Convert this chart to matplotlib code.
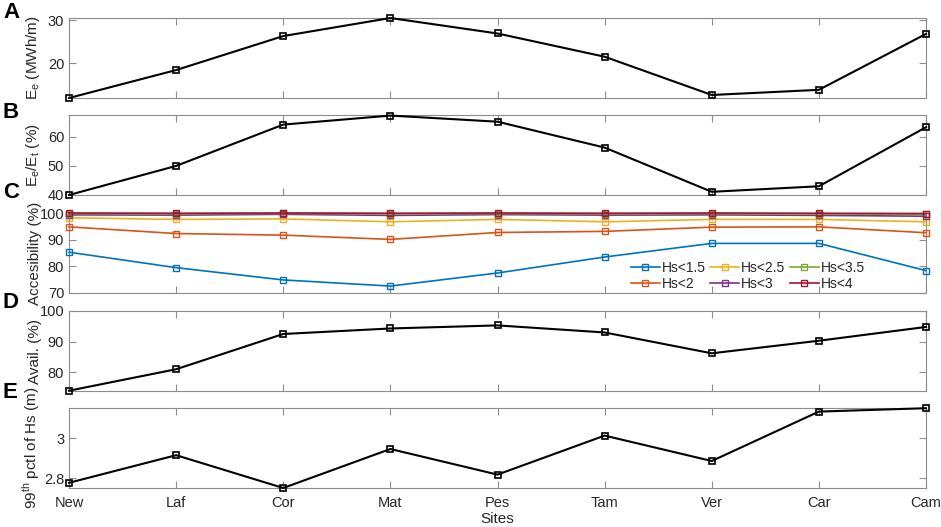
import numpy as np
import matplotlib
matplotlib.use("Agg")
import matplotlib.pyplot as plt

plt.rcParams["font.family"] = ["Liberation Sans", "DejaVu Sans"]

sites = ["New", "Laf", "Cor", "Mat", "Pes", "Tam", "Ver", "Car", "Cam"]

# A: exploitable energy (MWh/m)
energy = [11.9, 18.4, 26.3, 30.5, 26.9, 21.5, 12.6, 13.8, 26.8]
# B: Ee/Et (%)
ratio = [40.0, 50.0, 64.2, 67.3, 65.2, 56.3, 41.1, 43.0, 63.3]
# C: accessibility (%) per Hs threshold
acc_labels = ["Hs<1.5", "Hs<2", "Hs<2.5", "Hs<3", "Hs<3.5", "Hs<4"]
acc_hs15 = [85.3, 79.5, 74.9, 72.6, 77.5, 83.5, 88.6, 88.6, 78.4]
acc_hs2 = [94.8, 92.3, 91.7, 90.1, 92.7, 93.1, 94.7, 94.8, 92.6]
acc_hs25 = [98.2, 97.6, 97.8, 96.7, 97.6, 96.7, 97.6, 97.6, 96.7]
acc_hs3 = [99.3, 99.2, 99.5, 99.1, 99.4, 99.2, 99.3, 99.1, 98.8]
acc_hs35 = [99.8, 99.7, 99.9, 99.7, 99.8, 99.7, 99.8, 99.6, 99.5]
acc_hs4 = [100.0, 99.9, 100.0, 99.9, 100.0, 99.9, 100.0, 99.9, 99.8]
# D: availability (%)
avail = [74.0, 81.0, 92.5, 94.3, 95.3, 93.0, 86.2, 90.3, 94.8]
# E: 99th percentile of Hs (m)
hs99 = [2.776, 2.914, 2.75, 2.945, 2.817, 3.012, 2.885, 3.132, 3.149]

matlab_colors = ["#0072BD", "#D95319", "#EDB120", "#7E2F8E", "#77AC30", "#A2142F"]
axis_gray = "#8c8c8c"
text_gray = "#262626"

fig = plt.figure(figsize=(9.41, 5.27), dpi=100)
W, H = 941, 527
left, right = 69, 926
panels = [(18, 98), (115, 195), (213, 293), (311, 391), (408, 488)]
axes = []
for top, bot in panels:
    ax = fig.add_axes([left / W, 1 - bot / H, (right - left) / W, (bot - top) / H])
    axes.append(ax)

x = np.arange(len(sites))


def style(ax, ylim, yticks, yticklabels):
    ax.set_xlim(0, len(sites) - 1)
    ax.set_ylim(*ylim)
    ax.set_xticks(x)
    ax.set_yticks(yticks)
    ax.set_yticklabels(yticklabels)
    ax.tick_params(direction="in", length=5, width=0.8, color=axis_gray,
                   labelcolor=text_gray, labelsize=10.5, top=True, right=True)
    ax.tick_params(axis="x", pad=6)
    for sp in ax.spines.values():
        sp.set_color(axis_gray)
        sp.set_linewidth(0.8)
    ax.yaxis.set_label_coords(-0.032, 0.5)


black_kw = dict(color="black", lw=1.5, marker="s", ms=5, mfc="none", mew=1.2)

ax = axes[0]
ax.plot(x, energy, **black_kw, clip_on=False, zorder=5)
style(ax, (11.9, 30.5), [20, 30], ["20", "30"])
ax.set_ylabel("E$_\\mathregular{e}$ (MWh/m)", fontsize=11, color=text_gray)

ax = axes[1]
ax.plot(x, ratio, **black_kw, clip_on=False, zorder=5)
style(ax, (40, 67.5), [40, 50, 60], ["40", "50", "60"])
ax.set_ylabel("E$_\\mathregular{e}$/E$_\\mathregular{t}$ (%)", fontsize=11, color=text_gray)

ax = axes[2]
acc_series = [acc_hs15, acc_hs2, acc_hs25, acc_hs3, acc_hs35, acc_hs4]
for vals, lab, col in zip(acc_series, acc_labels, matlab_colors):
    ax.plot(x, vals, color=col, lw=1.2, marker="s", ms=5, mfc="none", mew=1.0,
            label=lab, clip_on=False, zorder=5)
style(ax, (70, 100), [70, 80, 90, 100], ["70", "80", "90", "100"])
ax.set_ylabel("Accesibility (%)", fontsize=11, color=text_gray)
leg = ax.legend(ncol=3, frameon=False, loc="lower right", bbox_to_anchor=(0.937, -0.065),
                borderpad=0, fontsize=10, handlelength=2.1, columnspacing=0.3,
                handletextpad=0.15, labelspacing=0.15)
for t in leg.get_texts():
    t.set_color(text_gray)

ax = axes[3]
ax.plot(x, avail, **black_kw, clip_on=False, zorder=5)
style(ax, (73.9, 100), [80, 90, 100], ["80", "90", "100"])
ax.set_ylabel("Avail. (%)", fontsize=11, color=text_gray)

ax = axes[4]
ax.plot(x, hs99, **black_kw, clip_on=False, zorder=5)
style(ax, (2.75, 3.15), [2.8, 3.0], ["2.8", "3"])
ax.set_ylabel("99$^\\mathregular{th}$ pctl of Hs (m)", fontsize=11, color=text_gray)
ax.set_xticklabels(sites)
ax.set_xlabel("Sites", fontsize=11, color=text_gray, labelpad=1)

for ax in axes[:4]:
    ax.set_xticklabels([])

letters = ["A", "B", "C", "D", "E"]
letter_y = [12, 112, 193, 302, 392]
for lt, ly in zip(letters, letter_y):
    fig.text(3 / W, 1 - ly / H, lt, fontsize=16, fontweight="bold", va="center", ha="left")

fig.savefig("out.png", dpi=100)
